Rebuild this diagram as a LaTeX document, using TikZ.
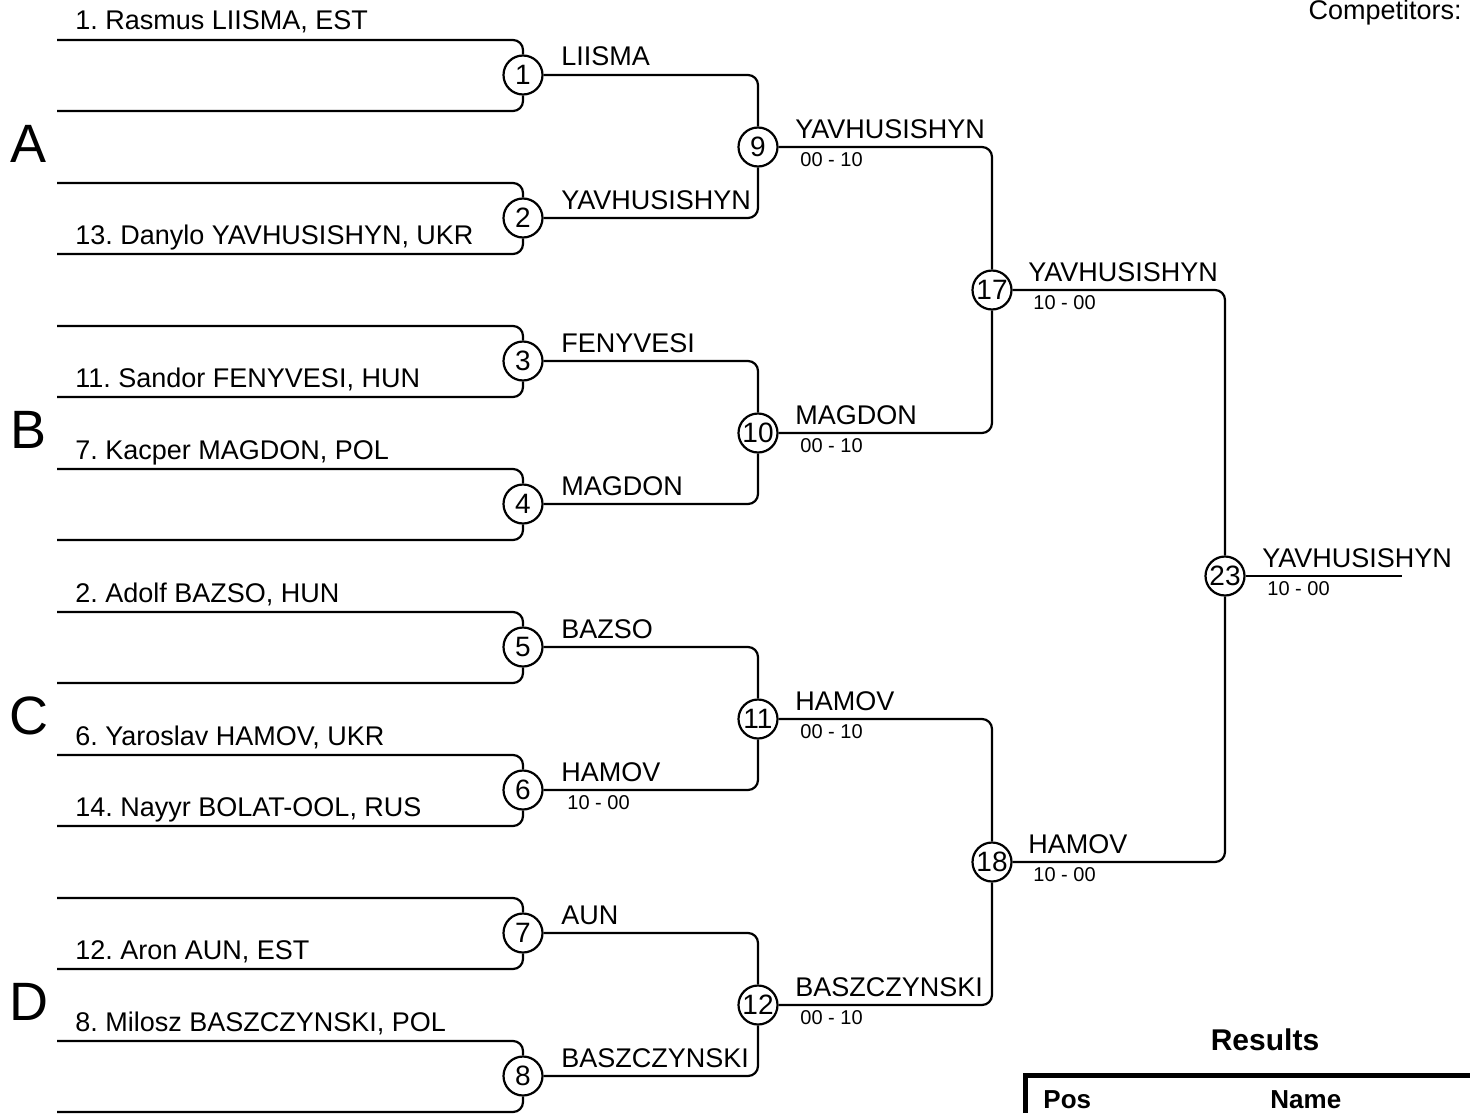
\documentclass[tikz,border=0pt]{standalone}
\usepackage{fontspec}
\setmainfont{Liberation Sans}
\frenchspacing
\usetikzlibrary{positioning}
\tikzstyle{match} = [circle, draw=black, line width=1.1pt, minimum size=19.5pt, inner sep=0pt, font=\fontsize{14}{16}\selectfont]
\tikzstyle{bracket} = [line width=1.1pt, rounded corners=5pt]
\tikzset{
    entry/.style={
        anchor=base west,
        inner sep=0pt,
        font=\fontsize{13.5}{16}\selectfont
    },
    winner/.style={
        entry
    },
    score/.style={
        anchor=base west,
        inner sep=0pt,
        font=\fontsize{10}{12}\selectfont
    },
    pool/.style={
        anchor=base,
        inner sep=0pt,
        font=\fontsize{27}{32}\selectfont
    },
    heading/.style={
        inner sep=0pt,
        font=\bfseries\fontsize{13}{15}\selectfont
    }
}

\begin{document}
\begin{tikzpicture}[x=0.5pt, y=-0.5pt]
	\useasboundingbox (0,0) rectangle (1470,1113);
	% first round
	\foreach \i in {1,...,8} {
		\pgfmathsetmacro{\yc}{75+143*(\i-1)}
		\node (m\i) [match] at (523,\yc) {\i};
		\coordinate (t\i) at (57,\yc-35);
		\coordinate (b\i) at (57,\yc+36);
		\draw [bracket] (t\i) -| (m\i);
		\draw [bracket] (b\i) -| (m\i);
	}
	\node (m9) [match] at (758,147) {9};
	\node (m10) [match] at (758,433) {10};
	\node (m11) [match] at (758,719) {11};
	\node (m12) [match] at (758,1005) {12};
	\node (m17) [match] at (992,290) {17};
	\node (m18) [match] at (992,862) {18};
	\node (m23) [match] at (1225,576) {23};
	\coordinate (champ) at (1402,576);
	\draw [bracket] (m1) -| (m9);
	\draw [bracket] (m2) -| (m9);
	\draw [bracket] (m3) -| (m10);
	\draw [bracket] (m4) -| (m10);
	\draw [bracket] (m5) -| (m11);
	\draw [bracket] (m6) -| (m11);
	\draw [bracket] (m7) -| (m12);
	\draw [bracket] (m8) -| (m12);
	\draw [bracket] (m9) -| (m17);
	\draw [bracket] (m10) -| (m17);
	\draw [bracket] (m11) -| (m18);
	\draw [bracket] (m12) -| (m18);
	\draw [bracket] (m17) -| (m23);
	\draw [bracket] (m18) -| (m23);
	\draw [bracket] (m23) -- (champ);
	% pools
	\node (poolA) [pool] at (29,162) {A};
	\node (poolB) [pool] at (29,448) {B};
	\node (poolC) [pool] at (29,734) {C};
	\node (poolD) [pool] at (29,1020) {D};
	% competitors
	\node (e1) [entry] at (75,30) {1. Rasmus LIISMA, EST};
	\node (e13) [entry] at (75,244) {13. Danylo YAVHUSISHYN, UKR};
	\node (e11) [entry] at (75,387) {11. Sandor FENYVESI, HUN};
	\node (e7) [entry] at (75,459) {7. Kacper MAGDON, POL};
	\node (e2) [entry] at (75,602) {2. Adolf BAZSO, HUN};
	\node (e6) [entry] at (75,745) {6. Yaroslav HAMOV, UKR};
	\node (e14) [entry] at (75,816) {14. Nayyr BOLAT-OOL, RUS};
	\node (e12) [entry] at (75,959) {12. Aron AUN, EST};
	\node (e8) [entry] at (75,1031) {8. Milosz BASZCZYNSKI, POL};
	% winners
	\node (w1) [winner] at (561,66) {LIISMA};
	\node (w2) [winner] at (561,209) {YAVHUSISHYN};
	\node (w3) [winner] at (561,352) {FENYVESI};
	\node (w4) [winner] at (561,495) {MAGDON};
	\node (w5) [winner] at (561,638) {BAZSO};
	\node (w6) [winner] at (561,781) {HAMOV};
	\node (s6) [score] at (567,809) {10 - 00};
	\node (w7) [winner] at (561,924) {AUN};
	\node (w8) [winner] at (561,1067) {BASZCZYNSKI};
	\node (w9) [winner] at (795,138) {YAVHUSISHYN};
	\node (s9) [score] at (800,166) {00 - 10};
	\node (w10) [winner] at (795,424) {MAGDON};
	\node (s10) [score] at (800,452) {00 - 10};
	\node (w11) [winner] at (795,710) {HAMOV};
	\node (s11) [score] at (800,738) {00 - 10};
	\node (w12) [winner] at (795,996) {BASZCZYNSKI};
	\node (s12) [score] at (800,1024) {00 - 10};
	\node (w17) [winner] at (1028,281) {YAVHUSISHYN};
	\node (s17) [score] at (1033,309) {10 - 00};
	\node (w18) [winner] at (1028,853) {HAMOV};
	\node (s18) [score] at (1033,881) {10 - 00};
	\node (w23) [winner] at (1262,567) {YAVHUSISHYN};
	\node (s23) [score] at (1267,595) {10 - 00};
	% header and results
	\node (competitors) [entry, anchor=base east] at (1462,20) {Competitors:};
	\node (results) [heading, anchor=base, font=\bfseries\fontsize{15}{18}\selectfont] at (1265,1050) {Results};
	\draw [line width=2.5pt] (1025,1113) -- (1025,1075) -- (1470,1075);
	\node (pos) [heading, anchor=base west] at (1043,1108) {Pos};
	\node (name) [heading, anchor=base west] at (1270,1108) {Name};
\end{tikzpicture}
\end{document}
